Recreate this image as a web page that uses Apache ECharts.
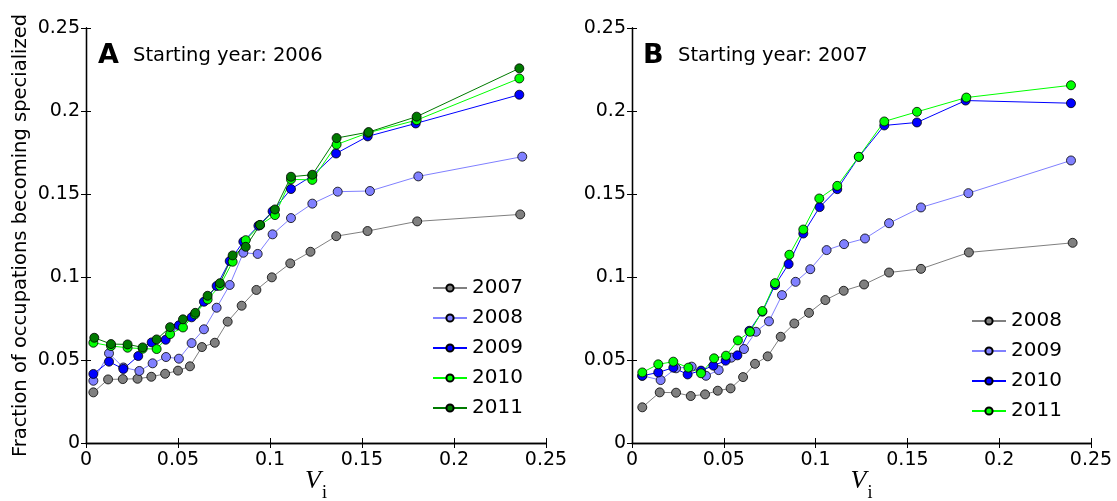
<!DOCTYPE html>
<html>
<head>
<meta charset="utf-8">
<script src="https://cdn.jsdelivr.net/npm/echarts@6/dist/echarts.min.js"></script>
<style>
  html, body { margin: 0; padding: 0; background: #fff; }
  #chart { width: 1117px; height: 501px; }
</style>
</head>
<body>
<div id="chart"></div>
<script>
// Panel A: starting year 2006
const xA07 = [0.004, 0.012, 0.020, 0.028, 0.0355, 0.043, 0.050, 0.0565, 0.063, 0.070, 0.077, 0.0846, 0.0926, 0.101, 0.111, 0.122, 0.136, 0.153, 0.180, 0.236];
const yA07 = [0.0305, 0.0383, 0.0385, 0.0387, 0.0399, 0.0417, 0.0436, 0.0462, 0.0578, 0.0604, 0.0731, 0.0827, 0.0922, 0.0998, 0.1082, 0.1152, 0.1246, 0.1277, 0.1335, 0.1377];
const xA08 = [0.004, 0.0125, 0.0203, 0.029, 0.0362, 0.0435, 0.0505, 0.0574, 0.0641, 0.071, 0.0781, 0.0855, 0.0933, 0.1014, 0.1114, 0.123, 0.1368, 0.1543, 0.1806, 0.2371];
const yA08 = [0.0375, 0.054, 0.0455, 0.0434, 0.048, 0.0518, 0.0508, 0.0602, 0.0685, 0.0815, 0.0952, 0.1146, 0.1139, 0.1257, 0.1355, 0.1442, 0.1514, 0.1518, 0.1606, 0.1725];
const xA09 = [0.004, 0.0125, 0.0203, 0.0284, 0.0357, 0.0433, 0.0505, 0.0574, 0.0641, 0.071, 0.0781, 0.0855, 0.0937, 0.1014, 0.1114, 0.123, 0.1359, 0.1531, 0.1792, 0.2355];
const yA09 = [0.0416, 0.049, 0.0446, 0.0524, 0.0606, 0.0622, 0.0709, 0.0757, 0.0851, 0.0946, 0.1096, 0.1213, 0.1309, 0.1396, 0.153, 0.161, 0.1744, 0.1847, 0.1925, 0.2098];
const xA10 = [0.004, 0.0136, 0.0226, 0.0308, 0.0384, 0.0457, 0.0527, 0.0592, 0.0661, 0.0728, 0.0797, 0.0868, 0.0946, 0.1027, 0.1114, 0.123, 0.1362, 0.1534, 0.1797, 0.2355];
const yA10 = [0.0604, 0.0584, 0.0574, 0.0568, 0.0566, 0.0656, 0.0696, 0.0775, 0.0865, 0.0947, 0.1092, 0.1222, 0.1313, 0.1373, 0.1588, 0.1585, 0.1798, 0.1869, 0.1945, 0.2196];
const xA11 = [0.0045, 0.0136, 0.0226, 0.0308, 0.0384, 0.0457, 0.0527, 0.0594, 0.0661, 0.0728, 0.0797, 0.0868, 0.0946, 0.1027, 0.1114, 0.123, 0.1362, 0.1536, 0.1797, 0.2355];
const yA11 = [0.0634, 0.0596, 0.0594, 0.0576, 0.0624, 0.0698, 0.0745, 0.0784, 0.0887, 0.0963, 0.113, 0.1182, 0.1314, 0.1407, 0.1604, 0.1616, 0.1837, 0.1873, 0.1966, 0.2257];

// Panel B: starting year 2007
const xB08 = [0.0056, 0.0151, 0.024, 0.032, 0.0398, 0.0467, 0.0537, 0.0605, 0.067, 0.0739, 0.081, 0.0884, 0.0964, 0.1053, 0.1153, 0.1264, 0.14, 0.1574, 0.1835, 0.24];
const yB08 = [0.0215, 0.0305, 0.0303, 0.0283, 0.0293, 0.0315, 0.0329, 0.0397, 0.0477, 0.0522, 0.064, 0.072, 0.0784, 0.0861, 0.0917, 0.0955, 0.1027, 0.1049, 0.1148, 0.1206];
const xB09 = [0.0056, 0.0156, 0.024, 0.0325, 0.0403, 0.0472, 0.0541, 0.061, 0.0675, 0.0746, 0.0817, 0.0891, 0.0971, 0.106, 0.1155, 0.1269, 0.14, 0.1574, 0.1832, 0.2391];
const yB09 = [0.0405, 0.0379, 0.045, 0.046, 0.0405, 0.0439, 0.0514, 0.0566, 0.067, 0.0733, 0.0891, 0.0971, 0.1047, 0.1162, 0.1198, 0.1232, 0.1324, 0.1419, 0.1505, 0.1702];
const xB10 = [0.0056, 0.0143, 0.0225, 0.0303, 0.0376, 0.0443, 0.051, 0.0574, 0.0639, 0.071, 0.0779, 0.0853, 0.0933, 0.1022, 0.1118, 0.1236, 0.1374, 0.1552, 0.1817, 0.2391];
const yB10 = [0.0405, 0.0425, 0.0454, 0.0413, 0.0436, 0.0466, 0.0496, 0.0528, 0.0676, 0.0791, 0.0951, 0.1078, 0.1262, 0.1421, 0.1529, 0.1724, 0.1913, 0.1931, 0.2063, 0.2047];
const xB11 = [0.0056, 0.0143, 0.0225, 0.0307, 0.0376, 0.0447, 0.0512, 0.0577, 0.0643, 0.071, 0.0779, 0.0857, 0.0933, 0.102, 0.1118, 0.1235, 0.1374, 0.1552, 0.1821, 0.2391];
const yB11 = [0.0425, 0.0474, 0.049, 0.0454, 0.042, 0.051, 0.0526, 0.0618, 0.067, 0.0795, 0.0963, 0.1134, 0.1286, 0.1473, 0.1549, 0.1724, 0.1937, 0.1995, 0.2081, 0.2155];

const yearsA = ['2007', '2008', '2009', '2010', '2011'];
const yearsB = ['2008', '2009', '2010', '2011'];
const ticksX = [0, 0.05, 0.1, 0.15, 0.2, 0.25];

const GRAY = '#808080', LBLUE = '#8080ff', BLUE = '#0000ff', GREEN = '#00ff00', DGREEN = '#007a00';
const FONT = 'DejaVu Sans';

const chart = echarts.init(document.getElementById('chart'));

function pairs(xs, ys) {
  return xs.map((x, i) => [x, ys[i]]);
}

function makeSeries(name, xs, ys, fill, line, idx) {
  return {
    name: name,
    type: 'line',
    xAxisIndex: idx * 2,
    yAxisIndex: idx * 2,
    data: pairs(xs, ys),
    symbol: 'circle',
    symbolSize: 9,
    showSymbol: true,
    lineStyle: { width: 1, color: line },
    itemStyle: { color: fill, borderColor: '#000', borderWidth: 0.8 },
    emphasis: { disabled: true },
    z: 3
  };
}

function xAxes(gi) {
  const bottom = {
    type: 'value', gridIndex: gi, position: 'bottom',
    min: 0, max: 0.25, interval: 0.05,
    axisLine: { lineStyle: { color: '#000', width: 1.3 } },
    axisTick: { inside: true, length: 5, lineStyle: { color: '#000' } },
    axisLabel: { fontSize: 19, color: '#000', fontFamily: FONT, margin: 8,
      formatter: v => ticksX.includes(+v.toFixed(2)) ? String(+v.toFixed(2)) : '' },
    splitLine: { show: false },
    name: '{v|V}{s|i}',
    nameLocation: 'middle',
    nameGap: 33,
    nameMoveOverlap: false,
    nameTextStyle: {
      verticalAlign: 'top',
      rich: {
        v: { fontFamily: 'Liberation Serif', fontStyle: 'italic', fontSize: 26, lineHeight: 26, padding: [0, 1, 8, 0], verticalAlign: 'bottom', color: '#000' },
        s: { fontFamily: 'Liberation Serif', fontSize: 18, lineHeight: 18, verticalAlign: 'bottom', color: '#000' }
      }
    }
  };
  const top = {
    type: 'value', gridIndex: gi, position: 'top',
    min: 0, max: 0.25, interval: 0.05,
    axisLine: { lineStyle: { color: '#000', width: 1.3 } },
    axisTick: { inside: true, length: 5, lineStyle: { color: '#000' } },
    axisLabel: { show: false },
    splitLine: { show: false }
  };
  return [bottom, top];
}

function yAxes(gi, withName) {
  const left = {
    type: 'value', gridIndex: gi, position: 'left',
    min: 0, max: 0.25, interval: 0.05,
    axisLine: { show: true, lineStyle: { color: '#000', width: 1.3 } },
    axisTick: { show: true, inside: true, length: 5, lineStyle: { color: '#000' } },
    axisLabel: { fontSize: 19, color: '#000', fontFamily: FONT, margin: 6 },
    splitLine: { show: false }
  };
  if (withName) {
    left.name = 'Fraction of occupations becoming specialized';
    left.nameLocation = 'middle';
    left.nameGap = 55;
    left.nameMoveOverlap = false;
    left.nameTextStyle = { fontSize: 19.5, color: '#000', fontFamily: FONT };
  }
  const right = {
    type: 'value', gridIndex: gi, position: 'right',
    min: 0, max: 0.25, interval: 0.05,
    axisLine: { show: true, lineStyle: { color: '#000', width: 1.3 } },
    axisTick: { show: true, inside: true, length: 5, lineStyle: { color: '#000' } },
    axisLabel: { show: false },
    splitLine: { show: false }
  };
  return [left, right];
}

const series = [
  makeSeries('A 2007', xA07, yA07, GRAY, GRAY, 0),
  makeSeries('A 2008', xA08, yA08, LBLUE, LBLUE, 0),
  makeSeries('A 2009', xA09, yA09, BLUE, BLUE, 0),
  makeSeries('A 2010', xA10, yA10, GREEN, GREEN, 0),
  makeSeries('A 2011', xA11, yA11, DGREEN, DGREEN, 0),
  makeSeries('B 2008', xB08, yB08, GRAY, GRAY, 1),
  makeSeries('B 2009', xB09, yB09, LBLUE, LBLUE, 1),
  makeSeries('B 2010', xB10, yB10, BLUE, BLUE, 1),
  makeSeries('B 2011', xB11, yB11, GREEN, GREEN, 1)
];

const legendBase = {
  orient: 'vertical',
  padding: 0,
  itemWidth: 34,
  itemHeight: 9,
  itemGap: 10,
  selectedMode: false,
  textStyle: { fontSize: 20, lineHeight: 20, color: '#000', fontFamily: FONT },
  formatter: name => name.split(' ')[1]
};

const option = {
  animation: false,
  backgroundColor: '#fff',
  grid: [
    { left: 86, top: 28, width: 460, height: 415, outerBoundsMode: 'none' },
    { left: 632, top: 28, width: 459, height: 415, outerBoundsMode: 'none' }
  ],
  xAxis: [...xAxes(0), ...xAxes(1)],
  yAxis: [...yAxes(0, true), ...yAxes(1, false)],
  legend: [
    Object.assign({}, legendBase, { left: 432, top: 278, data: yearsA.map(y => 'A ' + y) }),
    Object.assign({}, legendBase, { left: 971, top: 311, data: yearsB.map(y => 'B ' + y) })
  ],
  graphic: [
    { type: 'text', x: 98, y: 56, style: { text: 'A', font: 'bold 27px "DejaVu Sans"', fill: '#000', verticalAlign: 'middle' } },
    { type: 'text', x: 133, y: 56, style: { text: 'Starting year: 2006', font: '19.5px "DejaVu Sans"', fill: '#000', verticalAlign: 'middle' } },
    { type: 'text', x: 643, y: 56, style: { text: 'B', font: 'bold 27px "DejaVu Sans"', fill: '#000', verticalAlign: 'middle' } },
    { type: 'text', x: 678, y: 56, style: { text: 'Starting year: 2007', font: '19.5px "DejaVu Sans"', fill: '#000', verticalAlign: 'middle' } }
  ],
  series: series
};

chart.setOption(option);
</script>
</body>
</html>
